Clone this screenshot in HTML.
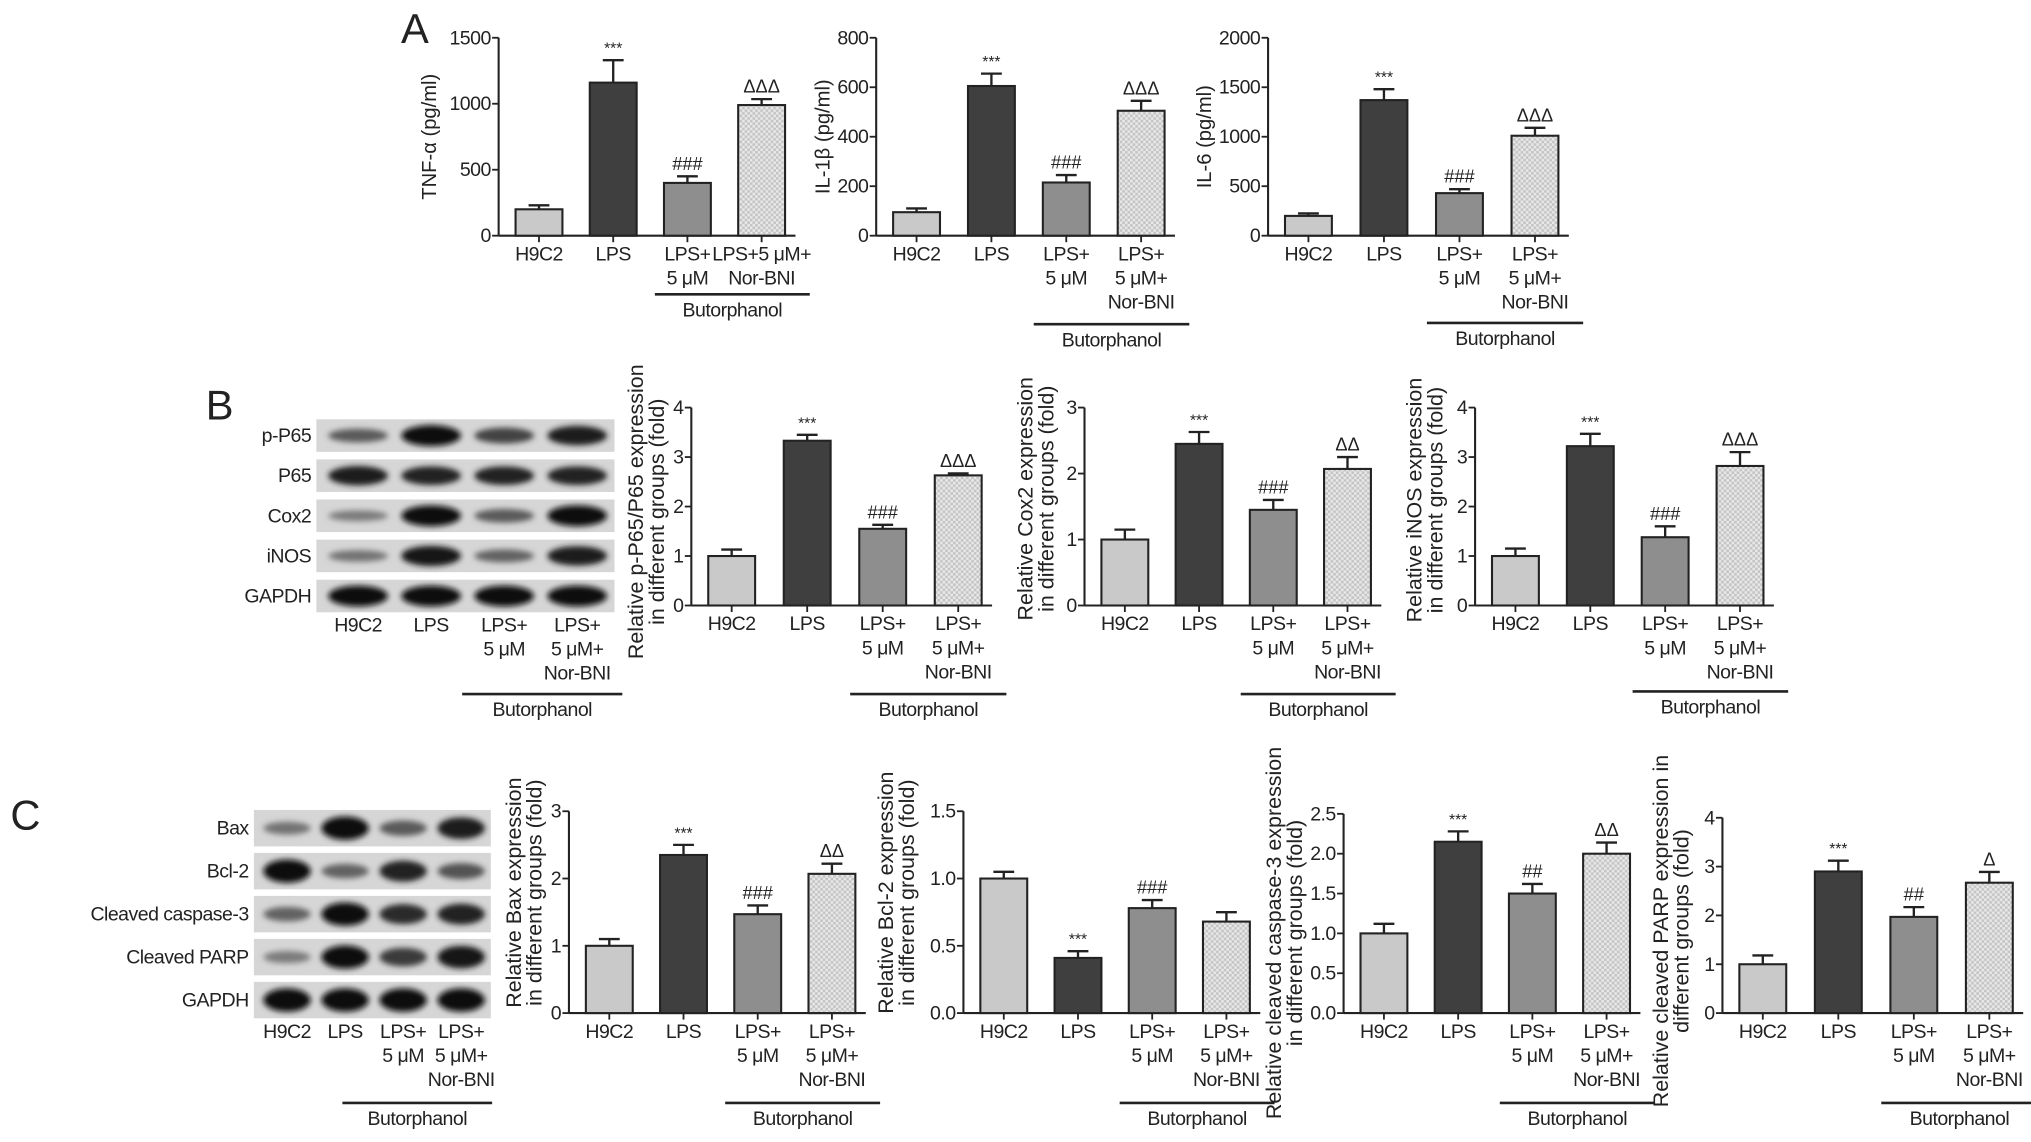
<!DOCTYPE html>
<html><head><meta charset="utf-8"><style>
html,body{margin:0;padding:0;background:#fff;}
svg{display:block;}
text{font-family:"Liberation Sans",sans-serif;fill:#222;}
.xl{letter-spacing:-0.4px;}
</style></head><body>
<svg id="fig" width="2031" height="1142" viewBox="0 0 1560 877" preserveAspectRatio="none" xmlns="http://www.w3.org/2000/svg">
<defs>
<pattern id="hatch" width="4" height="4" patternUnits="userSpaceOnUse">
<rect width="4" height="4" fill="#e8e8e8"/><rect width="2" height="2" fill="#c4c4c4"/><rect x="2" y="2" width="2" height="2" fill="#c4c4c4"/>
</pattern>
<filter id="blur" x="-20%" y="-50%" width="140%" height="200%"><feGaussianBlur stdDeviation="2.2"/></filter>
</defs>
<g id="root"></g>
</svg>
<script>
// ---- Data arrays ----
const groups = ["H9C2","LPS","LPS+5 μM","LPS+5 μM+Nor-BNI"];
const tnfValues = [200,1160,400,990];
const tnfErrors = [30,170,50,45];
const tnfTicks = [0,500,1000,1500];
const il1Values = [95,605,215,505];
const il1Errors = [15,50,30,40];
const il1Ticks = [0,200,400,600,800];
const il6Values = [200,1370,430,1010];
const il6Errors = [25,110,40,80];
const il6Ticks = [0,500,1000,1500,2000];
const p65Values = [1.0,3.33,1.55,2.63];
const p65Errors = [0.13,0.12,0.08,0.04];
const cox2Values = [1.0,2.45,1.45,2.07];
const cox2Errors = [0.15,0.18,0.15,0.18];
const inosValues = [1.0,3.22,1.38,2.82];
const inosErrors = [0.15,0.25,0.22,0.28];
const baxValues = [1.0,2.35,1.47,2.07];
const baxErrors = [0.1,0.15,0.13,0.15];
const bcl2Values = [1.0,0.41,0.78,0.68];
const bcl2Errors = [0.05,0.05,0.06,0.07];
const casValues = [1.0,2.15,1.5,2.0];
const casErrors = [0.12,0.13,0.12,0.14];
const parpValues = [1.0,2.9,1.97,2.67];
const parpErrors = [0.18,0.22,0.2,0.22];
const ticks0to3 = [0,1,2,3];
const ticks0to4 = [0,1,2,3,4];
const ticksBcl = [0,0.5,1.0,1.5];
const ticksCas = [0,0.5,1.0,1.5,2.0,2.5];
const sigA = ["","***","###","ΔΔΔ"];
const sigC2 = ["","***","###","ΔΔ"];
const sigBcl = ["","***","###",""];
const sigCas = ["","***","##","ΔΔ"];
const sigParp = ["","***","##","Δ"];
// blot band intensities (0..1)
const blotBRows = ["p-P65","P65","Cox2","iNOS","GAPDH"];
const blotBInt = [[0.5,1,0.65,0.9],[0.9,0.85,0.85,0.85],[0.3,1,0.5,1],[0.35,0.95,0.45,0.9],[1,1,1,1]];
const blotCRows = ["Bax","Bcl-2","Cleaved caspase-3","Cleaved PARP","GAPDH"];
const blotCInt = [[0.35,1,0.5,0.9],[1,0.45,0.85,0.55],[0.45,1,0.8,0.85],[0.3,1,0.7,0.95],[1,1,1,1]];

const NS="http://www.w3.org/2000/svg";
const root=document.getElementById('root');
function mk(tag,attrs,parent,txt){const e=document.createElementNS(NS,tag);for(const k in attrs)e.setAttribute(k,attrs[k]);if(txt!==undefined)e.textContent=txt;(parent||root).appendChild(e);return e;}
const fills=["#c9c9c9","#3f3f3f","#8e8e8e","url(#hatch)"];

function xLabel(g,cx,y,i,oneLine4){
  const lines = i===0?["H9C2"]:i===1?["LPS"]:i===2?["LPS+","5 μM"]:(oneLine4?["LPS+5 μM+","Nor-BNI"]:["LPS+","5 μM+","Nor-BNI"]);
  lines.forEach((l,j)=>{const t=mk('text',{x:cx,y:y+j*18.5,'text-anchor':'middle','font-size':15,'class':'xl'},g,l);
    
    });
}

function chart(o){
  const g=mk('g',{});
  
  
  const max=o.ticks[o.ticks.length-1];
  const yS=v=>o.y0-(v/max)*(o.y0-o.yTop);
  const bw=36;
  const gap=o.gap||57.5;
  const xS=i=>o.ax+31+i*gap;
  let a=mk('line',{x1:o.ax,y1:o.yTop,x2:o.ax,y2:o.y0,stroke:'#222','stroke-width':1.6},g);
  
  a=mk('line',{x1:o.ax,y1:o.y0,x2:xS(3)+bw/2+8,y2:o.y0,stroke:'#222','stroke-width':1.6},g);
  
  o.ticks.forEach(t=>{
    mk('line',{x1:o.ax-5,y1:yS(t),x2:o.ax,y2:yS(t),stroke:'#222','stroke-width':1.4},g);
    const lab=(o.dec?t.toFixed(1):String(t));
    const tt=mk('text',{x:o.ax-6,y:yS(t)+5,'text-anchor':'end','font-size':15,'class':'xl'},g,lab);
    
  });
  o.values.forEach((v,i)=>{
    const cx=xS(i);
    mk('line',{x1:cx,y1:o.y0,x2:cx,y2:o.y0+5,stroke:'#222','stroke-width':1.4},g);
    const top=yS(v+o.errors[i]);
    mk('line',{x1:cx,y1:yS(v),x2:cx,y2:top,stroke:'#222','stroke-width':1.8},g);
    mk('line',{x1:cx-8,y1:top,x2:cx+8,y2:top,stroke:'#222','stroke-width':1.8},g);
    const r=mk('rect',{x:cx-bw/2,y:yS(v),width:bw,height:o.y0-yS(v),fill:fills[i],stroke:'#222','stroke-width':1.6},g);
    
    
    if(o.sig[i]){const s=mk('text',{x:cx,y:top-5,'text-anchor':'middle','font-size':o.sig[i].includes('*')?12:14},g,o.sig[i]);
      }
    xLabel(g,cx,o.y0+19,i,o.oneLine4);
  });
  const bl=o.bracketY;
  mk('line',{x1:xS(2)-25,y1:bl,x2:xS(3)+37,y2:bl,stroke:'#222','stroke-width':2},g);
  const bt=mk('text',{x:(xS(2)+xS(3))/2+6,y:bl+17,'text-anchor':'middle','font-size':15,'class':'xl'},g,'Butorphanol');
  
  const cy=(o.y0+o.yTop)/2+(o.titleShift||0);
  o.title.forEach((l,j)=>{const t=mk('text',{x:0,y:0,'text-anchor':'middle','font-size':o.titleSize||16.5,transform:`translate(${o.titleX+j*16},${cy}) rotate(-90)`},g,l);
    });
}

function blot(o){
  const g=mk('g',{});
  
  
  o.rows.forEach((rn,r)=>{
    const y=o.y+r*o.step, h=o.h;
    const bg=mk('rect',{x:o.x,y:y,width:o.w,height:h,fill:'#d6d6d6'},g);
    
    o.ints[r].forEach((v,i)=>{
      const cx=o.x+o.w*(0.14+i*0.245);
      const c=Math.round(170-160*v);
      mk('ellipse',{cx:cx,cy:y+h/2,rx:o.w*0.1,ry:h*0.1+h*0.22*v,fill:`rgb(${c},${c},${c})`,filter:'url(#blur)'},g);
    });
    const t=mk('text',{x:o.x-4,y:y+h/2+5,'text-anchor':'end','font-size':15,'class':'xl'},g,rn);
    
  });
  for(let i=0;i<4;i++) xLabel(g,o.x+o.w*(0.14+i*0.245),o.labY,i,false);
  mk('line',{x1:o.bx1,y1:o.bY,x2:o.bx2,y2:o.bY,stroke:'#222','stroke-width':2},g);
  const bt=mk('text',{x:(o.bx1+o.bx2)/2,y:o.bY+17,'text-anchor':'middle','font-size':15,'class':'xl'},g,'Butorphanol');
  
}

function panelLabel(t,x,y){const e=mk('text',{x:x,y:y,'font-size':32},root,t);
  }

panelLabel('A',308,33);panelLabel('B',158,322);panelLabel('C',8,637);

chart({name:'tnf-chart',ax:383,yTop:29,y0:181,ticks:tnfTicks,values:tnfValues,errors:tnfErrors,sig:sigA,title:['TNF-α (pg/ml)'],titleX:335,bracketY:226,oneLine4:true,gap:57,titleSize:15.5});
chart({name:'il1b-chart',ax:673,yTop:29,y0:181,ticks:il1Ticks,values:il1Values,errors:il1Errors,sig:sigA,title:['IL-1β (pg/ml)'],titleX:637,bracketY:249,gap:57.5,titleSize:15.5});
chart({name:'il6-chart',ax:974,yTop:29,y0:181,ticks:il6Ticks,values:il6Values,errors:il6Errors,sig:sigA,title:['IL-6 (pg/ml)'],titleX:930,bracketY:248,gap:58,titleSize:15.5});

blot({name:'blot-b',x:243,y:322,w:229,h:25,step:30.8,rows:blotBRows,ints:blotBInt,labY:485,bx1:355,bx2:478,bY:533});
chart({name:'p65-chart',ax:531,yTop:313,y0:465,ticks:ticks0to4,values:p65Values,errors:p65Errors,sig:sigA,title:['Relative p-P65/P65 expression','in different groups (fold)'],titleX:494,bracketY:533,gap:58,titleShift:4});
chart({name:'cox2-chart',ax:833,yTop:313,y0:465,ticks:ticks0to3,values:cox2Values,errors:cox2Errors,sig:sigC2,title:['Relative Cox2 expression','in different groups (fold)'],titleX:793,bracketY:533,gap:57,titleShift:-6});
chart({name:'inos-chart',ax:1133,yTop:313,y0:465,ticks:ticks0to4,values:inosValues,errors:inosErrors,sig:sigA,title:['Relative iNOS expression','in different groups (fold)'],titleX:1092,bracketY:531,gap:57.5,titleShift:-5});

blot({name:'blot-c',x:195,y:622,w:182,h:28,step:33,rows:blotCRows,ints:blotCInt,labY:797,bx1:263,bx2:378,bY:847});
chart({name:'bax-chart',ax:437,yTop:623,y0:778,ticks:ticks0to3,values:baxValues,errors:baxErrors,sig:sigC2,title:['Relative Bax expression','in different groups (fold)'],titleX:400,bracketY:847,gap:57,titleShift:-15});
chart({name:'bcl2-chart',ax:740,yTop:623,y0:778,ticks:ticksBcl,values:bcl2Values,errors:bcl2Errors,sig:sigBcl,title:['Relative Bcl-2 expression','in different groups (fold)'],titleX:686,bracketY:847,dec:true,gap:57,titleShift:-15});
chart({name:'caspase3-chart',ax:1032,yTop:625,y0:778,ticks:ticksCas,values:casValues,errors:casErrors,sig:sigCas,title:['Relative cleaved caspase-3 expression','in different groups (fold)'],titleX:984,bracketY:847,dec:true,gap:57,titleShift:15});
chart({name:'parp-chart',ax:1323,yTop:628,y0:778,ticks:ticks0to4,values:parpValues,errors:parpErrors,sig:sigParp,title:['Relative cleaved PARP expression in','different groups (fold)'],titleX:1281,bracketY:847,gap:58,titleShift:12});
</script>
</body></html>
